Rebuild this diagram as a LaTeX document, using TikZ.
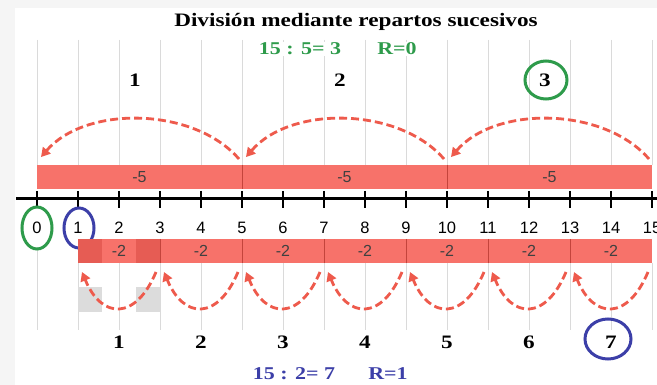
\documentclass[tikz,border=0pt]{standalone}
\usepackage{fontspec}
\setmainfont{Liberation Serif}
\newfontfamily\numfont{Liberation Sans}
\usetikzlibrary{calc,arrows.meta}
\definecolor{barA}{HTML}{F7726A}
\definecolor{barDark}{HTML}{E65C54}
\definecolor{barLine}{HTML}{C4443C}
\definecolor{jumpA}{HTML}{EE5A4C}
\definecolor{quotA}{HTML}{2E9B4B}
\definecolor{quotB}{HTML}{3C3FA8}
\definecolor{gridA}{HTML}{DADADA}
% the serif texts of the picture are set a little wide
\newcommand{\wideText}[1]{\scalebox{1.22}[1]{#1}}

\begin{document}
\begin{tikzpicture}[x=1pt,y=-1pt,
    jump/.style={jumpA, line width=2.8pt, dash pattern=on 8pt off 4pt,
      -{Triangle[length=9pt,width=10pt]}},
    gridline/.style={gridA, line width=1pt},
    ticklabel/.style={font=\numfont\fontsize{16.5}{16.5}\selectfont},
    barlabel/.style={black!75, font=\numfont\fontsize{16}{16}\selectfont},
    count/.style={font=\bfseries\fontsize{19}{19}\selectfont},
    result/.style={font=\bfseries\fontsize{18}{18}\selectfont}]

  % page and panel
  \useasboundingbox (0,0) rectangle (657,385);
  \fill[gray!8] (0,0) rectangle (657,385);
  \fill[white] (15,8) rectangle (657,385);

  % ticks of the number line
  \foreach \k in {0,...,15} {
    \coordinate (t\k) at ({37+41*\k},199);
  }

  % light grid lines, above and below the line
  \foreach \k in {0,...,15} {
    \draw[gridline] ($(t\k)+(0,-159)$) -- ($(t\k)+(0,-34)$);
  }
  \draw[gridline] ($(t0)+(0,48)$) -- ($(t0)+(0,131)$);
  \foreach \k in {1,...,15} {
    \draw[gridline] ($(t\k)+(0,64)$) -- ($(t\k)+(0,131)$);
  }

  % title and first result
  \node[font=\bfseries\fontsize{19}{19}\selectfont] (title) at (356,22) {\wideText{División mediante repartos sucesivos}};
  \node[quotA, result, fill=white, inner sep=1pt] (resAq) at (300,49) {\wideText{15 : 5= 3}};
  \node[quotA, result, fill=white, inner sep=1pt] (resAr) at (397,49) {\wideText{R=0}};

  % top bar: groups of 5
  \fill[barA] ($(t0)+(0,-34)$) rectangle ($(t15)+(0,-10)$);
  \foreach \k in {5,10} {
    \draw[barLine] ($(t\k)+(0,-34)$) -- ($(t\k)+(0,-10)$);
  }
  \foreach \k/\m in {0/5,5/10,10/15} {
    \node[barlabel] at ($(t\k)!0.5!(t\m)+(0,-22)$) {-5};
  }

  % jumps of 5
  \foreach \a/\b in {5/0,10/5,15/10} {
    \draw[jump] ($(t\a)+(-3,-40)$) .. controls +(-45,-52) and +(45,-52) .. ($(t\b)+(4,-42)$);
  }
  \foreach \n/\k in {1/0,2/5,3/10} {
    \node[count] (up\n) at ($(t\k)+(98,-119)$) {\wideText{\n}};
  }
  \draw[quotA, line width=3pt] ($(up3)+(1,0)$) ellipse (21 and 19);

  % number line
  \draw[line width=3pt] (16,199) -- (657,199);
  \foreach \k in {0,...,15} {
    \draw[line width=2.5pt] ($(t\k)+(0,-8)$) -- ($(t\k)+(0,9)$);
    \node[ticklabel] (n\k) at ($(t\k)+(0,29)$) {\k};
  }
  \draw[quotA, line width=3pt] (n0) ellipse (15 and 21);
  \draw[quotB, line width=3pt] ($(n1)+(1,0)$) ellipse (15 and 20);

  % bottom bar: groups of 2
  \fill[barA] ($(t1)+(0,40)$) rectangle ($(t15)+(0,64)$);
  \fill[barDark] ($(t1)+(0,40)$) rectangle ($(t1)+(24,64)$);
  \fill[barDark] ($(t3)+(-24,40)$) rectangle ($(t3)+(0,64)$);
  \fill[gridA!90!black!60!white] ($(t1)+(0,88)$) rectangle ($(t1)+(24,113)$);
  \fill[gridA!90!black!60!white] ($(t3)+(-24,88)$) rectangle ($(t3)+(0,113)$);
  \foreach \k in {3,5,...,13} {
    \draw[barLine] ($(t\k)+(0,40)$) -- ($(t\k)+(0,64)$);
  }
  \foreach \k in {2,4,...,14} {
    \node[barlabel] at ($(t\k)+(0,52)$) {-2};
  }

  % jumps of 2
  \foreach \a/\b in {3/1,5/3,7/5,9/7,11/9,13/11,15/13} {
    \draw[jump] ($(t\a)+(-4,73)$) .. controls +(-20,48) and +(20,48) .. ($(t\b)+(4,73)$);
  }
  \foreach \n in {1,...,7} {
    \node[count] (dn\n) at ($(t0)+(82*\n,143)$) {\wideText{\n}};
  }
  \draw[quotB, line width=3pt] ($(dn7)+(-3,-3)$) ellipse (23 and 20);

  % second result
  \node[quotB, result] (resBq) at (294,374) {\wideText{15 : 2= 7}};
  \node[quotB, result] (resBr) at (388,374) {\wideText{R=1}};
\end{tikzpicture}
\end{document}
